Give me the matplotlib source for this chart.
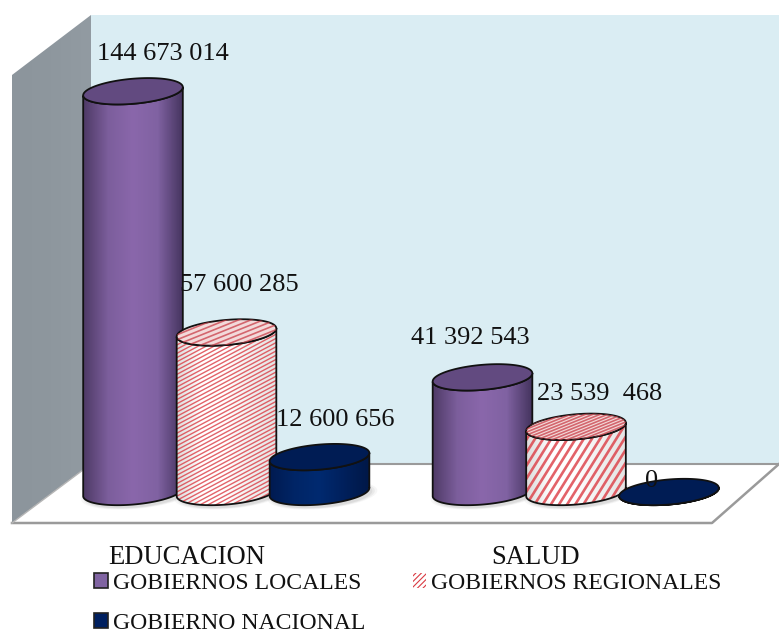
import numpy as np
import matplotlib
matplotlib.use('Agg')
import matplotlib.pyplot as plt
from matplotlib.collections import LineCollection
from matplotlib.colors import LinearSegmentedColormap
from matplotlib.patches import Patch, Polygon

plt.rcParams['font.family'] = ['Liberation Serif', 'DejaVu Sans']
plt.rcParams['hatch.linewidth'] = 0.8

categorias = ['EDUCACION', 'SALUD']
series = ['GOBIERNOS LOCALES', 'GOBIERNOS REGIONALES', 'GOBIERNO NACIONAL']
educacion = [144673014, 57600285, 12600656]
salud = [41392543, 23539468, 0]
etiquetas_educacion = ['144 673 014', '57 600 285', '12 600 656']
etiquetas_salud = ['41 392 543', '23 539  468', '0']

W, H = 779, 632
BASE = 492          # pixel y of value 0
ESCALA = 2.77e-6    # pixels per unit
RX, RY = 50, 12.5
GIRO = np.radians(-5)


def val(py):
    return (BASE - np.asarray(py, dtype=float)) / ESCALA


fig = plt.figure(figsize=(W / 100, H / 100), dpi=100)
fondo = fig.add_axes([0, 0, 1, 1])
fondo.axis('off')

ax = fig.add_axes([0, 0, 1, 1], facecolor='none')
ax.axis('off')

# paredes y piso
fondo.add_patch(Polygon([(91, 15), (779, 15), (779, 464), (91, 464)], fc='#DAEDF3', ec='none'))
gris = LinearSegmentedColormap.from_list('gris', ['#8C959C', '#8E979E', '#929BA2'])
im = fondo.imshow(np.linspace(0, 1, 80).reshape(1, -1), cmap=gris, extent=(12, 91, 523, 15),
                  aspect='auto', zorder=1)
pared = Polygon([(12, 75), (91, 15), (91, 464), (12, 523)], fc='none', ec='none')
fondo.add_patch(pared)
im.set_clip_path(pared)
fondo.add_patch(Polygon([(12, 523), (91, 464), (779, 464), (712, 523)], fc='white', ec='none', zorder=2))
fondo.plot([91, 779], [464, 464], color='#9A9A9A', lw=1.5, zorder=3)
fondo.plot([12, 712, 779], [523, 523, 464], color='#9A9A9A', lw=1.8, zorder=3)
fondo.plot([12, 91], [523, 464], color='#B5B5B5', lw=1, zorder=3)
fondo.set_xlim(0, W)
fondo.set_ylim(H, 0)


def elipse(cx, cy_px, n=120, t0=0.0, t1=2 * np.pi):
    t = np.linspace(t0, t1, n)
    x = RX * np.cos(t)
    y = RY * np.sin(t)
    px = cx + x * np.cos(GIRO) - y * np.sin(GIRO)
    py = cy_px + x * np.sin(GIRO) + y * np.cos(GIRO)
    return px, py


def rayas(x0, x1, y0, y1, paso, angulo):
    # segmentos diagonales que cubren la caja, en pixeles
    m = np.tan(np.radians(angulo))
    segs = []
    for c in np.arange(y0 - paso, y1 + m * (x1 - x0) + paso, paso):
        segs.append([(x0, val(c)), (x1, val(c - m * (x1 - x0)))])
    return segs


def cilindro(cx, valor, colores, tapa, z, raya=None):
    top = BASE - valor * ESCALA
    xt, yt = elipse(cx, top)
    # cuerpo: borde inferior de la base y borde inferior de la tapa
    xb, yb = elipse(cx, BASE, t0=0, t1=np.pi)
    orden = np.argsort(xb)
    xb, yb = xb[orden], yb[orden]
    xa, ya = elipse(cx, top, t0=0, t1=np.pi)
    orden = np.argsort(xa)[::-1]
    xa, ya = xa[orden], ya[orden]
    pts = np.column_stack([np.r_[xb, xa], val(np.r_[yb, ya])])
    cuerpo = Polygon(pts, closed=True, fc='none', ec='#111111', lw=1.3, zorder=z + 2)

    # sombra suave en el piso
    if valor > 0:
        for k, a in zip([1.1, 1.05, 1.0], [0.05, 0.07, 0.09]):
            sx, sy = elipse(cx + 3, BASE + 3)
            ax.fill(cx + 3 + (sx - cx - 3) * k, val(BASE + 3 + (sy - BASE - 3) * k), color='#555555',
                    alpha=a, lw=0, zorder=z)

    cmap = LinearSegmentedColormap.from_list('c', colores)
    img = ax.imshow(np.linspace(0, 1, 100).reshape(1, -1), cmap=cmap, aspect='auto', zorder=z + 1,
                    extent=(cx - RX, cx + RX, val(BASE + RY + 5), val(top - RY - 5)))
    clip = Polygon(pts, closed=True, fc='none', ec='none', zorder=z + 1)
    ax.add_patch(clip)
    img.set_clip_path(clip)
    if raya:
        lc = LineCollection(rayas(cx - RX, cx + RX, top - RY, BASE + RY, raya[0], raya[1]),
                            colors='#DC3C44', linewidths=raya[2], zorder=z + 1, alpha=0.8)
        ax.add_collection(lc)
        lc.set_clip_path(clip)
    ax.add_patch(cuerpo)

    tp = Polygon(np.column_stack([xt, val(yt)]), closed=True, fc=tapa, ec='#111111', lw=1.3, zorder=z + 3)
    ax.add_patch(tp)
    if raya:
        lc2 = LineCollection(rayas(cx - RX, cx + RX, top - RY, top + RY, raya[3], 22),
                             colors='#C9404A', linewidths=1.2, zorder=z + 3, alpha=0.75)
        ax.add_collection(lc2)
        lc2.set_clip_path(tp)


morado = ['#4E3A66', '#7C5E9C', '#8A67AB', '#8062A2', '#463560']
rayado = ['#DCDCDC', '#FFFFFF', '#FFFFFF', '#F0F0F0', '#E4E4E4']
azul = ['#001A50', '#002566', '#002A70', '#00205C', '#001848']
colores = [morado, rayado, azul]
tapas = ['#624A80', '#F3DADA', '#001C54']

centros = [[133, 226.5, 319.5], [482.5, 576, 669]]
rayas_serie = [[None, (4.2, 28, 1.0, 5.0), None], [None, (13, 58, 1.9, 3.0), None]]
z = 5
for i, fila in enumerate([educacion, salud]):
    for j, v in enumerate(fila):
        cilindro(centros[i][j], v, colores[j], tapas[j], z, rayas_serie[i][j])
        z += 5
ax.set_xlim(0, W)
ax.set_ylim(val(H), val(0))

# las etiquetas van sobre los cilindros
capa = fig.add_axes([0, 0, 1, 1], facecolor='none')
capa.set_xlim(0, W)
capa.set_ylim(H, 0)
capa.axis('off')

pos_etiquetas = [[(163, 54), (239, 285), (335, 420)], [(470, 338), (600, 394), (652, 481)]]
for textos, posiciones in zip([etiquetas_educacion, etiquetas_salud], pos_etiquetas):
    for t, (x, y) in zip(textos, posiciones):
        capa.text(x, y, t, fontsize=19, ha='center', va='center', color='#111111')
for c, x in zip(categorias, [186.5, 536]):
    capa.text(x, 557, c, fontsize=19.2, ha='center', va='center', color='#111111')

manejadores = [
    Patch(fc='#8064A2', ec='#222222', lw=1.2),
    Patch(fc='#002060', ec='#222222', lw=1.2),
    Patch(fc='white', ec='#D93A42', hatch='//////', lw=0),
]
capa.legend(manejadores, [series[0], series[2], series[1]], ncol=2, frameon=False, prop={'size': 17.15},
            loc='upper left', bbox_to_anchor=(94 / W, 1 - 573 / H), bbox_transform=fig.transFigure,
            borderaxespad=0, borderpad=0, handlelength=0.58, handleheight=0.58, handletextpad=0.2,
            labelspacing=0.78, columnspacing=2.0, labelcolor='#111111')

fig.savefig('out.png', dpi=100)
